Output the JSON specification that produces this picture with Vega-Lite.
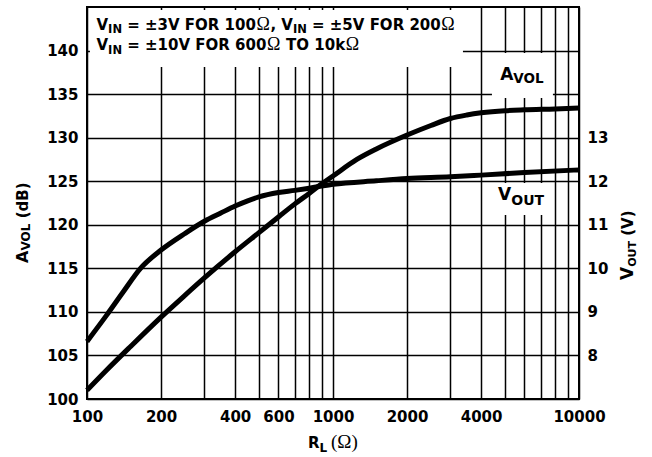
{
  "$schema": "https://vega.github.io/schema/vega-lite/v6.json",
  "width": 492,
  "height": 392,
  "autosize": {"type": "none"},
  "padding": {"left": 87, "top": 7, "right": 73, "bottom": 58},
  "background": "white",
  "config": {
    "view": {"stroke": "black", "strokeWidth": 2},
    "axis": {
      "labelFont": "DejaVu Sans",
      "labelFontWeight": "bold",
      "labelFontSize": 15,
      "labelColor": "black",
      "ticks": false,
      "domain": false,
      "gridColor": "black",
      "gridWidth": 1.5,
      "gridOpacity": 1,
      "labelOverlap": false,
      "labelFlush": false
    },
    "text": {"font": "DejaVu Sans", "fontWeight": "bold", "color": "black", "align": "left", "baseline": "alphabetic"}
  },
  "datasets": {
    "avol": [
      {"R": 100, "A": 101.0}, {"R": 120, "A": 103.3}, {"R": 150, "A": 106.0}, {"R": 200, "A": 109.4},
      {"R": 250, "A": 111.9}, {"R": 300, "A": 113.9}, {"R": 400, "A": 116.9}, {"R": 500, "A": 119.1},
      {"R": 600, "A": 120.9}, {"R": 700, "A": 122.4}, {"R": 800, "A": 123.6}, {"R": 900, "A": 124.7},
      {"R": 1000, "A": 125.6}, {"R": 1250, "A": 127.5}, {"R": 1500, "A": 128.7}, {"R": 2000, "A": 130.3},
      {"R": 2500, "A": 131.4}, {"R": 3000, "A": 132.2}, {"R": 3500, "A": 132.6}, {"R": 4000, "A": 132.85},
      {"R": 5000, "A": 133.1}, {"R": 6000, "A": 133.2}, {"R": 8000, "A": 133.3}, {"R": 10000, "A": 133.4}
    ],
    "vout": [
      {"R": 100, "V": 8.32}, {"R": 120, "V": 8.92}, {"R": 140, "V": 9.45}, {"R": 165, "V": 10.0},
      {"R": 200, "V": 10.42}, {"R": 250, "V": 10.8}, {"R": 300, "V": 11.08}, {"R": 350, "V": 11.27},
      {"R": 400, "V": 11.43}, {"R": 450, "V": 11.55}, {"R": 500, "V": 11.64}, {"R": 600, "V": 11.74},
      {"R": 700, "V": 11.79}, {"R": 800, "V": 11.84}, {"R": 1000, "V": 11.93}, {"R": 1500, "V": 12.01},
      {"R": 2000, "V": 12.06}, {"R": 3000, "V": 12.1}, {"R": 4000, "V": 12.14}, {"R": 6000, "V": 12.2},
      {"R": 10000, "V": 12.26}
    ],
    "one": [{}]
  },
  "layer": [
    {
      "layer": [
        {
          "data": {"name": "avol"},
          "mark": {"type": "line", "color": "black", "strokeWidth": 5, "interpolate": "monotone", "strokeCap": "butt"},
          "encoding": {
            "x": {
              "field": "R", "type": "quantitative",
              "scale": {"type": "log", "domain": [100, 10000], "nice": false},
              "axis": {
                "title": null, "grid": true, "labelPadding": 10,
                "values": [100, 200, 300, 400, 500, 600, 700, 800, 900, 1000, 2000, 3000, 4000, 5000, 6000, 7000, 8000, 9000, 10000],
                "labelExpr": "indexof([100,200,400,600,1000,2000,4000,10000], datum.value) >= 0 ? format(datum.value, 'd') : ''"
              }
            },
            "y": {
              "field": "A", "type": "quantitative",
              "scale": {"domain": [100, 145], "zero": false, "nice": false},
              "axis": {"title": null, "grid": true, "labelPadding": 9, "values": [100, 105, 110, 115, 120, 125, 130, 135, 140], "orient": "left"}
            }
          }
        },
        {
          "data": {"name": "one"},
          "mark": {"type": "rect", "fill": "white"},
          "encoding": {"x": {"datum": 102.8}, "x2": {"datum": 3375}, "y": {"datum": 138.1}, "y2": {"datum": 144.66}}
        },
        {
          "data": {"name": "one"},
          "mark": {"type": "rect", "fill": "white"},
          "encoding": {"x": {"datum": 4427}, "x2": {"datum": 7834}, "y": {"datum": 134.55}, "y2": {"datum": 139.72}}
        },
        {
          "data": {"name": "one"},
          "mark": {"type": "rect", "fill": "white"},
          "encoding": {"x": {"datum": 4345}, "x2": {"datum": 7834}, "y": {"datum": 121.12}, "y2": {"datum": 124.8}}
        },
        {"data": {"name": "one"}, "mark": {"type": "text", "text": "V", "fontSize": 15, "dx": 9.5}, "encoding": {"x": {"datum": 100}, "y": {"datum": 142.36}}},
        {"data": {"name": "one"}, "mark": {"type": "text", "text": "IN", "fontSize": 11.5, "dx": 21.1, "dy": 3.5}, "encoding": {"x": {"datum": 100}, "y": {"datum": 142.36}}},
        {"data": {"name": "one"}, "mark": {"type": "text", "text": "= ±3V FOR 100", "fontSize": 15, "dx": 40.2}, "encoding": {"x": {"datum": 100}, "y": {"datum": 142.36}}},
        {"data": {"name": "one"}, "mark": {"type": "text", "text": "Ω", "font": "Liberation Serif", "fontWeight": "normal", "fontSize": 18, "dx": 169.5}, "encoding": {"x": {"datum": 100}, "y": {"datum": 142.36}}},
        {"data": {"name": "one"}, "mark": {"type": "text", "text": ", V", "fontSize": 15, "dx": 183.4}, "encoding": {"x": {"datum": 100}, "y": {"datum": 142.36}}},
        {"data": {"name": "one"}, "mark": {"type": "text", "text": "IN", "fontSize": 11.5, "dx": 205.9, "dy": 3.5}, "encoding": {"x": {"datum": 100}, "y": {"datum": 142.36}}},
        {"data": {"name": "one"}, "mark": {"type": "text", "text": "= ±5V FOR 200", "fontSize": 15, "dx": 225}, "encoding": {"x": {"datum": 100}, "y": {"datum": 142.36}}},
        {"data": {"name": "one"}, "mark": {"type": "text", "text": "Ω", "font": "Liberation Serif", "fontWeight": "normal", "fontSize": 18, "dx": 354.3}, "encoding": {"x": {"datum": 100}, "y": {"datum": 142.36}}},
        {"data": {"name": "one"}, "mark": {"type": "text", "text": "V", "fontSize": 15, "dx": 9.5}, "encoding": {"x": {"datum": 100}, "y": {"datum": 140.06}}},
        {"data": {"name": "one"}, "mark": {"type": "text", "text": "IN", "fontSize": 11.5, "dx": 21.1, "dy": 3.5}, "encoding": {"x": {"datum": 100}, "y": {"datum": 140.06}}},
        {"data": {"name": "one"}, "mark": {"type": "text", "text": "= ±10V FOR 600", "fontSize": 15, "dx": 40.2}, "encoding": {"x": {"datum": 100}, "y": {"datum": 140.06}}},
        {"data": {"name": "one"}, "mark": {"type": "text", "text": "Ω", "font": "Liberation Serif", "fontWeight": "normal", "fontSize": 18, "dx": 180}, "encoding": {"x": {"datum": 100}, "y": {"datum": 140.06}}},
        {"data": {"name": "one"}, "mark": {"type": "text", "text": "TO 10k", "fontSize": 15, "dx": 199.1}, "encoding": {"x": {"datum": 100}, "y": {"datum": 140.06}}},
        {"data": {"name": "one"}, "mark": {"type": "text", "text": "Ω", "font": "Liberation Serif", "fontWeight": "normal", "fontSize": 18, "dx": 258.8}, "encoding": {"x": {"datum": 100}, "y": {"datum": 140.06}}},
        {"data": {"name": "one"}, "mark": {"type": "text", "text": "A", "fontSize": 17}, "encoding": {"x": {"datum": 4780}, "y": {"datum": 136.62}}},
        {"data": {"name": "one"}, "mark": {"type": "text", "text": "VOL", "fontSize": 13.5, "dx": 13.2, "dy": 3.5}, "encoding": {"x": {"datum": 4780}, "y": {"datum": 136.62}}},
        {"data": {"name": "one"}, "mark": {"type": "text", "text": "V", "fontSize": 17}, "encoding": {"x": {"datum": 4690}, "y": {"datum": 122.84}}},
        {"data": {"name": "one"}, "mark": {"type": "text", "text": "OUT", "fontSize": 14, "dx": 13.2, "dy": 4.5}, "encoding": {"x": {"datum": 4690}, "y": {"datum": 122.84}}},
        {"data": {"name": "one"}, "mark": {"type": "text", "text": "A", "fontSize": 16, "angle": 270}, "encoding": {"x": {"datum": 57.5}, "y": {"datum": 115.61}}},
        {"data": {"name": "one"}, "mark": {"type": "text", "text": "VOL", "fontSize": 12, "angle": 270, "dx": 12.4, "dy": 2.5}, "encoding": {"x": {"datum": 57.5}, "y": {"datum": 115.61}}},
        {"data": {"name": "one"}, "mark": {"type": "text", "text": "(dB)", "fontSize": 15, "angle": 270, "dx": 44.7}, "encoding": {"x": {"datum": 57.5}, "y": {"datum": 115.61}}},
        {"data": {"name": "one"}, "mark": {"type": "text", "text": "V", "fontSize": 17, "angle": 270}, "encoding": {"x": {"datum": 16580}, "y": {"datum": 113.66}}},
        {"data": {"name": "one"}, "mark": {"type": "text", "text": "OUT", "fontSize": 11, "angle": 270, "dx": 13.2, "dy": 2.5}, "encoding": {"x": {"datum": 16580}, "y": {"datum": 113.66}}},
        {"data": {"name": "one"}, "mark": {"type": "text", "text": "(V)", "fontSize": 15, "angle": 270, "dx": 44.2}, "encoding": {"x": {"datum": 16580}, "y": {"datum": 113.66}}},
        {"data": {"name": "one"}, "mark": {"type": "text", "text": "R", "fontSize": 15}, "encoding": {"x": {"datum": 790.9}, "y": {"datum": 94.37}}},
        {"data": {"name": "one"}, "mark": {"type": "text", "text": "L", "fontSize": 12, "dx": 11.6, "dy": 3.5}, "encoding": {"x": {"datum": 790.9}, "y": {"datum": 94.37}}},
        {"data": {"name": "one"}, "mark": {"type": "text", "text": "(Ω)", "font": "Liberation Serif", "fontWeight": "normal", "fontSize": 19, "dx": 23}, "encoding": {"x": {"datum": 790.9}, "y": {"datum": 94.37}}}
      ]
    },
    {
      "data": {"name": "vout"},
      "mark": {"type": "line", "color": "black", "strokeWidth": 5, "interpolate": "monotone", "strokeCap": "butt"},
      "encoding": {
        "x": {"field": "R", "type": "quantitative"},
        "y": {
          "field": "V", "type": "quantitative",
          "scale": {"domain": [7, 16], "zero": false, "nice": false},
          "axis": {"title": null, "grid": false, "orient": "right", "labelPadding": 8, "values": [8, 9, 10, 11, 12, 13]}
        }
      }
    }
  ],
  "resolve": {"scale": {"y": "independent"}, "axis": {"y": "independent"}}
}
